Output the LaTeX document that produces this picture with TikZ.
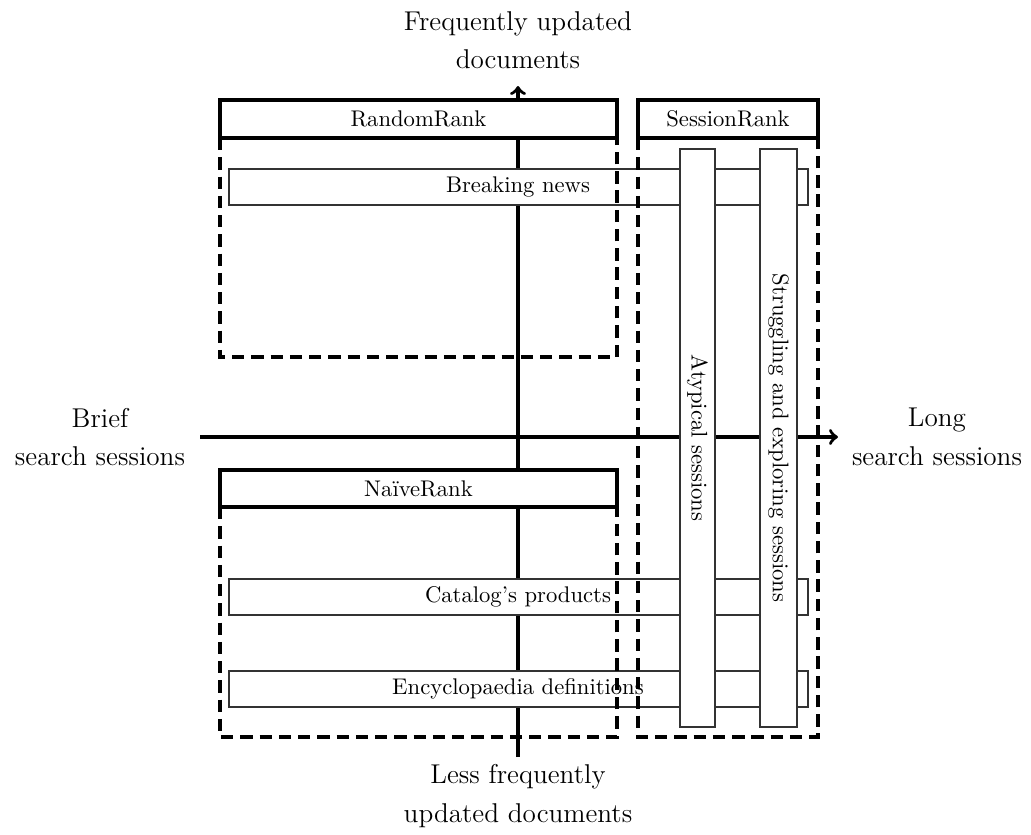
\documentclass[tikz,border=0pt]{standalone}
\usetikzlibrary{backgrounds,calc}
\begin{document}
\begin{tikzpicture}[x=0.01552cm,y=-0.01552cm]
        % Define the styles for axes, boxes and bars
        \tikzstyle{axis}=[line width=1.5pt,->];
        \tikzstyle{headbox}=[line width=1.5pt,fill=white];
        \tikzstyle{groupbox}=[line width=1.5pt,dash pattern=on 5.5pt off 3pt];
        \tikzstyle{bar}=[draw=black!80,line width=0.5pt,fill=white];
        \tikzstyle{axislabel}=[font=\large,align=center];

        \useasboundingbox (0,0) rectangle (1031,835);

        % Define the end points of the two axes
        \coordinate (top) at (518,86);
        \coordinate (bottom) at (518,757);
        \coordinate (left) at (200,437);
        \coordinate (right) at (838,437);

        % Draw the axes with labels
        \draw[axis] (bottom) -- (top);
        \draw[axis] (left) -- (right);
        \node[axislabel] (freq) at (518,40) {Frequently updated\\[3pt] documents};
        \node[axislabel] (less) at (518,796) {Less frequently\\[3pt] updated documents};
        \node[axislabel] (brief) at (100,437) {Brief\\[3pt] search sessions};
        \node[axislabel] (long) at (937,437) {Long\\[3pt] search sessions};

        % Document types as horizontal bars
        \draw[bar] (229,169) rectangle (808,205);
        \node (news) at (518,187) {Breaking news};
        \draw[bar] (229,579) rectangle (808,615);
        \node (catalog) at (518,597) {Catalog's products};
        \draw[bar] (229,671) rectangle (808,707);
        \node (encyc) at (518,689) {Encyclopaedia definitions};

        % Rankers: header and dashed region
        \draw[headbox] (220,100) rectangle (617,138);
        \node (random) at (418.5,119) {RandomRank};
        \draw[groupbox] (220,138) rectangle (617,357);
        \draw[headbox] (638,100) rectangle (818,138);
        \node (session) at (728,119) {SessionRank};
        \draw[groupbox] (638,138) rectangle (818,737);
        \draw[headbox] (220,470) rectangle (617,507);
        \node (naive) at (418.5,488.5) {Na\"iveRank};
        \draw[groupbox] (220,507) rectangle (617,737);

        % Session types as vertical bars
        \draw[bar] (680,149) rectangle (715,727);
        \node[rotate=-90] (atypical) at (697.5,438) {Atypical sessions};
        \draw[bar] (760,149) rectangle (797,727);
        \node[rotate=-90] (struggle) at (778.5,438) {Struggling and exploring sessions};
\end{tikzpicture}
\end{document}
